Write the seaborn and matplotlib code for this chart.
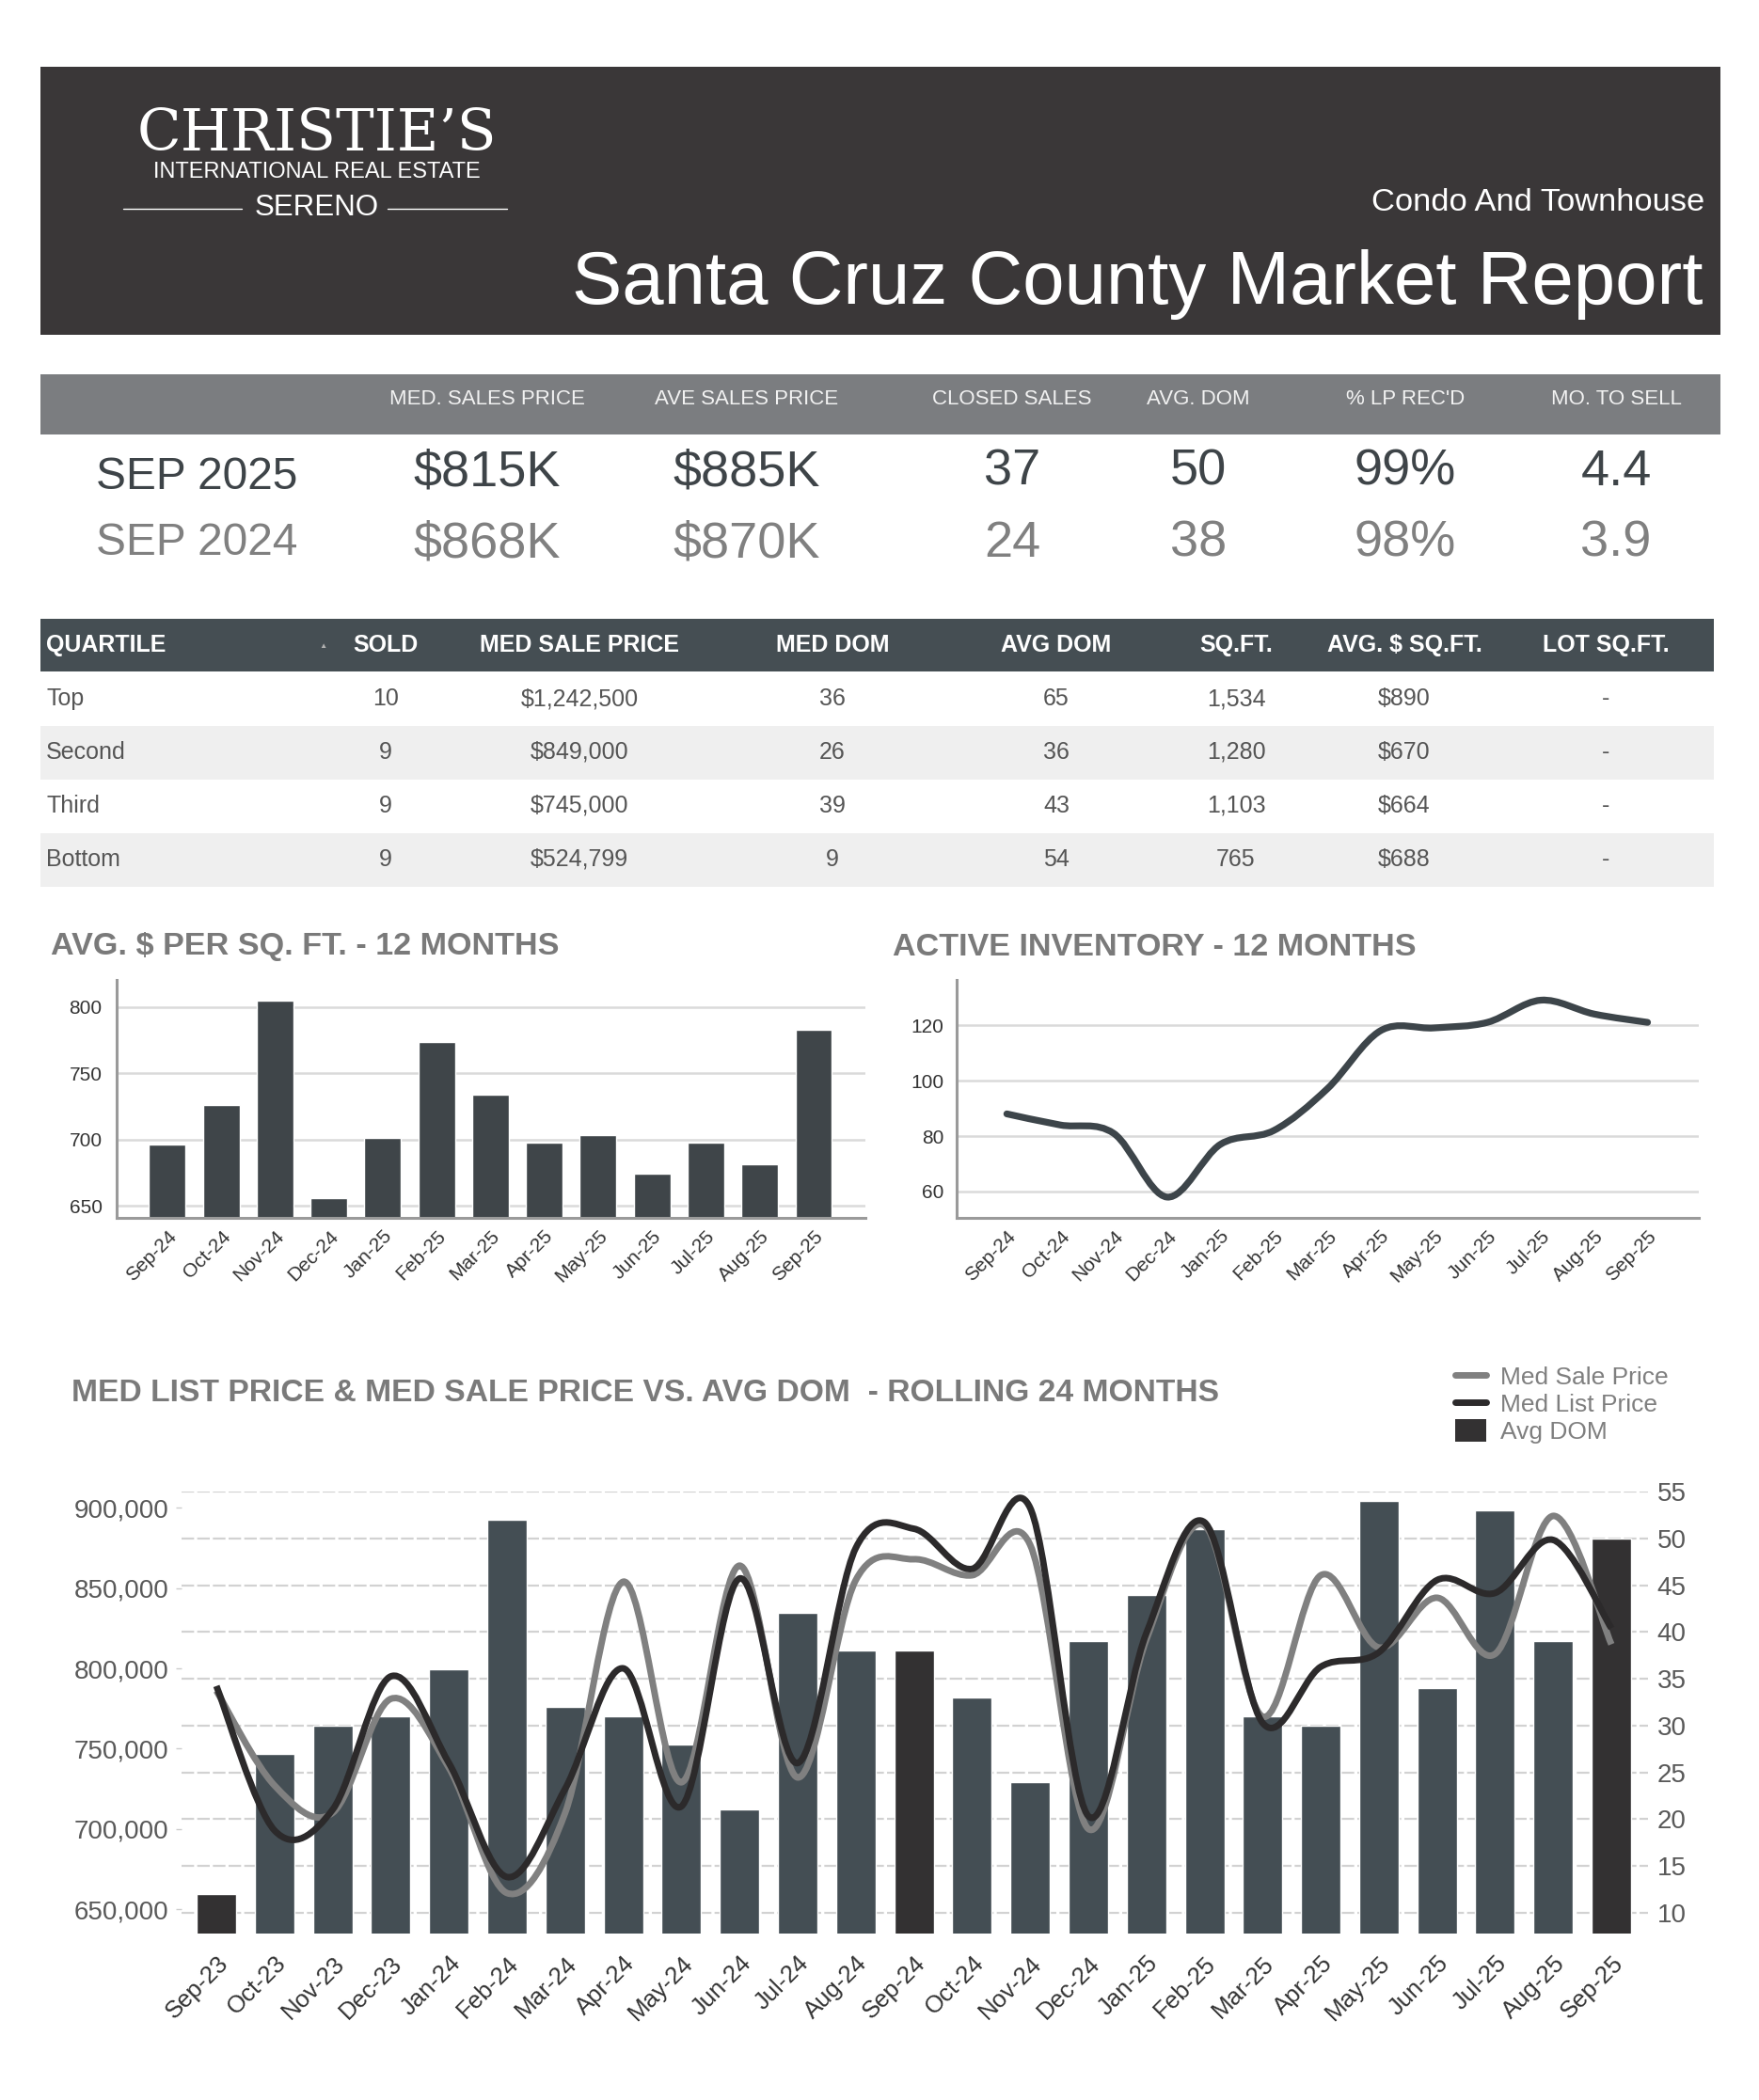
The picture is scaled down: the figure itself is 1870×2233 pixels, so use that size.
import numpy as np
import matplotlib
matplotlib.use('Agg')
import matplotlib.pyplot as plt
import seaborn as sns
from matplotlib.patches import Rectangle, PathPatch, Patch
from matplotlib.path import Path
from matplotlib.lines import Line2D

# ---- data ----
months24 = ['Sep-23', 'Oct-23', 'Nov-23', 'Dec-23', 'Jan-24', 'Feb-24', 'Mar-24', 'Apr-24',
            'May-24', 'Jun-24', 'Jul-24', 'Aug-24', 'Sep-24', 'Oct-24', 'Nov-24', 'Dec-24',
            'Jan-25', 'Feb-25', 'Mar-25', 'Apr-25', 'May-25', 'Jun-25', 'Jul-25', 'Aug-25', 'Sep-25']
months12 = months24[12:]

avg_ppsf = [696, 726, 805, 656, 701, 774, 734, 698, 703, 674, 698, 681, 783]
active_inventory = [88, 84, 81, 58, 77, 82, 97, 118, 119, 121, 129, 124, 121]

avg_dom = [12, 27, 30, 31, 36, 52, 32, 31, 28, 21, 42, 38, 38, 33, 24, 39, 44, 51, 31, 30, 54, 34, 53, 39, 50]
med_sale = [786000, 727000, 710000, 781000, 738000, 660000, 710000, 854000, 729000, 864000, 732000, 855000,
            868000, 858000, 877000, 700000, 818000, 889000, 770000, 858000, 813000, 844000, 809000, 895000, 815000]
med_list = [789000, 699000, 712000, 795000, 741000, 670000, 725000, 800000, 714000, 856000, 741000, 875000,
            887000, 862000, 900000, 708000, 822000, 891000, 766000, 801000, 810000, 855000, 847000, 880000, 825000]

summary_cols = ['MED. SALES PRICE', 'AVE SALES PRICE', 'CLOSED SALES', 'AVG. DOM', "% LP REC'D", 'MO. TO SELL']
summary_2025 = ['$815K', '$885K', '37', '50', '99%', '4.4']
summary_2024 = ['$868K', '$870K', '24', '38', '98%', '3.9']

quartile_cols = ['SOLD', 'MED SALE PRICE', 'MED DOM', 'AVG DOM', 'SQ.FT.', 'AVG. $ SQ.FT.', 'LOT SQ.FT.']
quartile_names = ['Top', 'Second', 'Third', 'Bottom']
quartile_rows = [
    ['10', '$1,242,500', '36', '65', '1,534', '$890', '-'],
    ['9', '$849,000', '26', '36', '1,280', '$670', '-'],
    ['9', '$745,000', '39', '43', '1,103', '$664', '-'],
    ['9', '$524,799', '9', '54', '765', '$688', '-'],
]

# ---- page setup ----
W, H = 1870, 2233
sns.set_theme(style='white')
plt.rcParams['font.family'] = ['Liberation Sans', 'DejaVu Sans']

fig = plt.figure(figsize=(W / 100, H / 100), dpi=100)
fig.patch.set_facecolor('white')


def fx(x):
    return x / W


def fy(y):
    return 1 - y / H


def box(x0, y0, x1, y1):
    return [x0 / W, 1 - y1 / H, (x1 - x0) / W, (y1 - y0) / H]


def rect(x0, y0, x1, y1, color):
    fig.add_artist(Rectangle((fx(x0), fy(y1)), (x1 - x0) / W, (y1 - y0) / H,
                             transform=fig.transFigure, color=color, zorder=0, lw=0))


def smooth_path(xs, ys):
    # Excel style smoothed line: Catmull-Rom segments as cubic beziers
    pts = np.column_stack([xs, ys]).astype(float)
    n = len(pts)
    verts = [pts[0]]
    codes = [Path.MOVETO]
    for i in range(n - 1):
        p0 = pts[max(i - 1, 0)]
        p1 = pts[i]
        p2 = pts[i + 1]
        p3 = pts[min(i + 2, n - 1)]
        verts += [p1 + (p2 - p0) / 6, p2 - (p3 - p1) / 6, p2]
        codes += [Path.CURVE4] * 3
    return Path(verts, codes)


# ---- header ----
rect(43, 71, 1829, 356, '#3a3738')
fig.text(fx(337), fy(160), 'CHRISTIE\u2019S', color='white', fontsize=44, family='DejaVu Serif',
         ha='center', va='baseline')
fig.text(fx(337), fy(183), 'INTERNATIONAL REAL ESTATE', color='white', fontsize=17,
         ha='center', va='center')
fig.text(fx(337), fy(221), 'SERENO', color='white', fontsize=22.5, ha='center', va='center')
fig.add_artist(Line2D([fx(131), fx(257)], [fy(222), fy(222)], color='white', lw=1, transform=fig.transFigure))
fig.add_artist(Line2D([fx(412), fx(539)], [fy(222), fy(222)], color='white', lw=1, transform=fig.transFigure))
fig.text(fx(1812), fy(216), 'Condo And Townhouse', color='white', fontsize=24.8, ha='right', va='center')
fig.text(fx(1810), fy(303), 'Santa Cruz County Market Report', color='white', fontsize=57.5,
         ha='right', va='center')

# ---- summary band ----
rect(43, 398, 1829, 462, '#7b7d80')
summary_x = [518, 794, 1076, 1274, 1494, 1718]
for cx, label, v25, v24 in zip(summary_x, summary_cols, summary_2025, summary_2024):
    fig.text(fx(cx), fy(424), label, color='#f2f2f2', fontsize=16, ha='center', va='center')
    fig.text(fx(cx), fy(502), v25, color='#3e4448', fontsize=39, ha='center', va='center')
    fig.text(fx(cx), fy(578), v24, color='#808080', fontsize=39, ha='center', va='center')
fig.text(fx(102), fy(508), 'SEP 2025', color='#3e4448', fontsize=34.5, ha='left', va='center')
fig.text(fx(102), fy(578), 'SEP 2024', color='#808080', fontsize=34.5, ha='left', va='center')

# ---- quartile table ----
rect(43, 658, 1822, 714, '#454e53')
rect(43, 772, 1822, 829, '#efefef')
rect(43, 886, 1822, 943, '#efefef')
quart_x = [410, 616, 885, 1123, 1314, 1493, 1707]
fig.text(fx(49), fy(686), 'QUARTILE', color='white', fontsize=18, weight='bold', ha='left', va='center')
fig.text(fx(343), fy(688), '\u25b2', color='#b0b0b0', fontsize=6, ha='center', va='center')
for cx, label in zip(quart_x, quartile_cols):
    fig.text(fx(cx), fy(686), label, color='white', fontsize=18, weight='bold', ha='center', va='center')
row_y = [743, 800, 857, 914]
for ry, name, row in zip(row_y, quartile_names, quartile_rows):
    fig.text(fx(49), fy(ry), name, color='#555555', fontsize=18, ha='left', va='center')
    for cx, val in zip(quart_x, row):
        fig.text(fx(cx), fy(ry), val, color='#555555', fontsize=18, ha='center', va='center')

# ---- section titles ----
title_kw = dict(color='#7a7a7a', weight='bold', ha='left', va='center')
fig.text(fx(54), fy(1007), 'AVG. $ PER SQ. FT. - 12 MONTHS', fontsize=24.6, **title_kw)
fig.text(fx(949), fy(1007), 'ACTIVE INVENTORY - 12 MONTHS', fontsize=24.6, **title_kw)
fig.text(fx(76), fy(1482), 'MED LIST PRICE & MED SALE PRICE VS. AVG DOM  - ROLLING 24 MONTHS',
         fontsize=24.2, **title_kw)


def style_small(ax, ylim, yticks, pad):
    ax.set_xlim(-0.94, 12.96)
    ax.set_ylim(*ylim)
    ax.set_yticks(yticks)
    ax.set_xlabel('')
    ax.set_ylabel('')
    ax.yaxis.grid(True, color='#dadada', lw=1.8)
    ax.xaxis.grid(False)
    ax.set_axisbelow(True)
    for s in ['top', 'right']:
        ax.spines[s].set_visible(False)
    for s in ['left', 'bottom']:
        ax.spines[s].set_color('#9a9a9a')
        ax.spines[s].set_linewidth(2.2)
    ax.tick_params(axis='y', length=0, pad=pad, labelsize=15, labelcolor='#333333')
    ax.tick_params(axis='x', length=0, pad=7, labelsize=15, labelcolor='#333333')
    ax.set_xticks(range(len(months12)))
    ax.set_xticklabels(months12, rotation=45, ha='right', rotation_mode='anchor')


# ---- avg $ per sq ft bars ----
ax1 = fig.add_axes(box(124, 1042, 920, 1295))
sns.barplot(x=months12, y=avg_ppsf, color='#3f4549', saturation=1, width=0.68, ax=ax1)
style_small(ax1, (640.8, 820.6), [650, 700, 750, 800], 11)

# ---- active inventory line ----
ax2 = fig.add_axes(box(1017, 1042, 1806, 1295))
ax2.add_patch(PathPatch(smooth_path(np.arange(len(months12)), active_inventory), fill=False,
                        edgecolor='#3d454a', lw=5.2, capstyle='round', joinstyle='round'))
style_small(ax2, (50.5, 136.3), [60, 80, 100, 120], 10)

# ---- rolling 24 months: bars (DOM, right) + smoothed price lines (left) ----
axb = fig.add_axes(box(193, 1586, 1752, 2056))
bar_colors = ['#333132' if m.startswith('Sep') else '#444e54' for m in months24]
sns.barplot(x=months24, y=avg_dom, hue=months24, palette=bar_colors, legend=False,
            saturation=1, width=0.68, ax=axb)
axp = axb.twinx()
axb.yaxis.tick_right()
axp.yaxis.tick_left()

xs = np.arange(len(months24))
axp.add_patch(PathPatch(smooth_path(xs, med_sale), fill=False, edgecolor='#808080', lw=5,
                        capstyle='butt', joinstyle='round'))
axp.add_patch(PathPatch(smooth_path(xs, med_list), fill=False, edgecolor='#2c2a2b', lw=5,
                        capstyle='butt', joinstyle='round'))

axb.set_xlim(-0.6, 24.63)
axb.set_ylim(7.79, 55)
axb.set_yticks(range(10, 56, 5))
axp.set_ylim(634764, 910184)
axp.set_yticks(range(650000, 900001, 50000))
axp.set_yticklabels([f'{v:,}' for v in range(650000, 900001, 50000)])
axb.set_xlabel('')
axb.set_ylabel('')
axb.yaxis.grid(True, color='#d2d2d2', lw=1.6, ls=(0, (6, 1.5)))
axb.xaxis.grid(False)
axb.set_axisbelow(True)
for a in (axb, axp):
    for s in a.spines.values():
        s.set_visible(False)
axb.tick_params(axis='y', length=0, pad=7, labelsize=20, labelcolor='#595959')
axp.tick_params(axis='y', length=4, width=1, color='#cccccc', pad=6, labelsize=20, labelcolor='#595959')
axb.set_xticks(range(len(months24)))
axb.set_xticklabels(months24, rotation=45, ha='right', rotation_mode='anchor')
axb.tick_params(axis='x', length=0, pad=14, labelsize=18.5, labelcolor='#333333')

handles = [Line2D([], [], color='#808080', lw=5), Line2D([], [], color='#2c2a2b', lw=5),
           Patch(facecolor='#333132', edgecolor='none')]
fig.legend(handles, ['Med Sale Price', 'Med List Price', 'Avg DOM'], loc='upper left',
           bbox_to_anchor=(fx(1534), fy(1438)), frameon=False, fontsize=19, labelcolor='#7f7f7f',
           handlelength=1.25, handleheight=1.0, handletextpad=0.55, labelspacing=0.12, borderpad=0)

fig.savefig('out.png', dpi=100, facecolor='white')
